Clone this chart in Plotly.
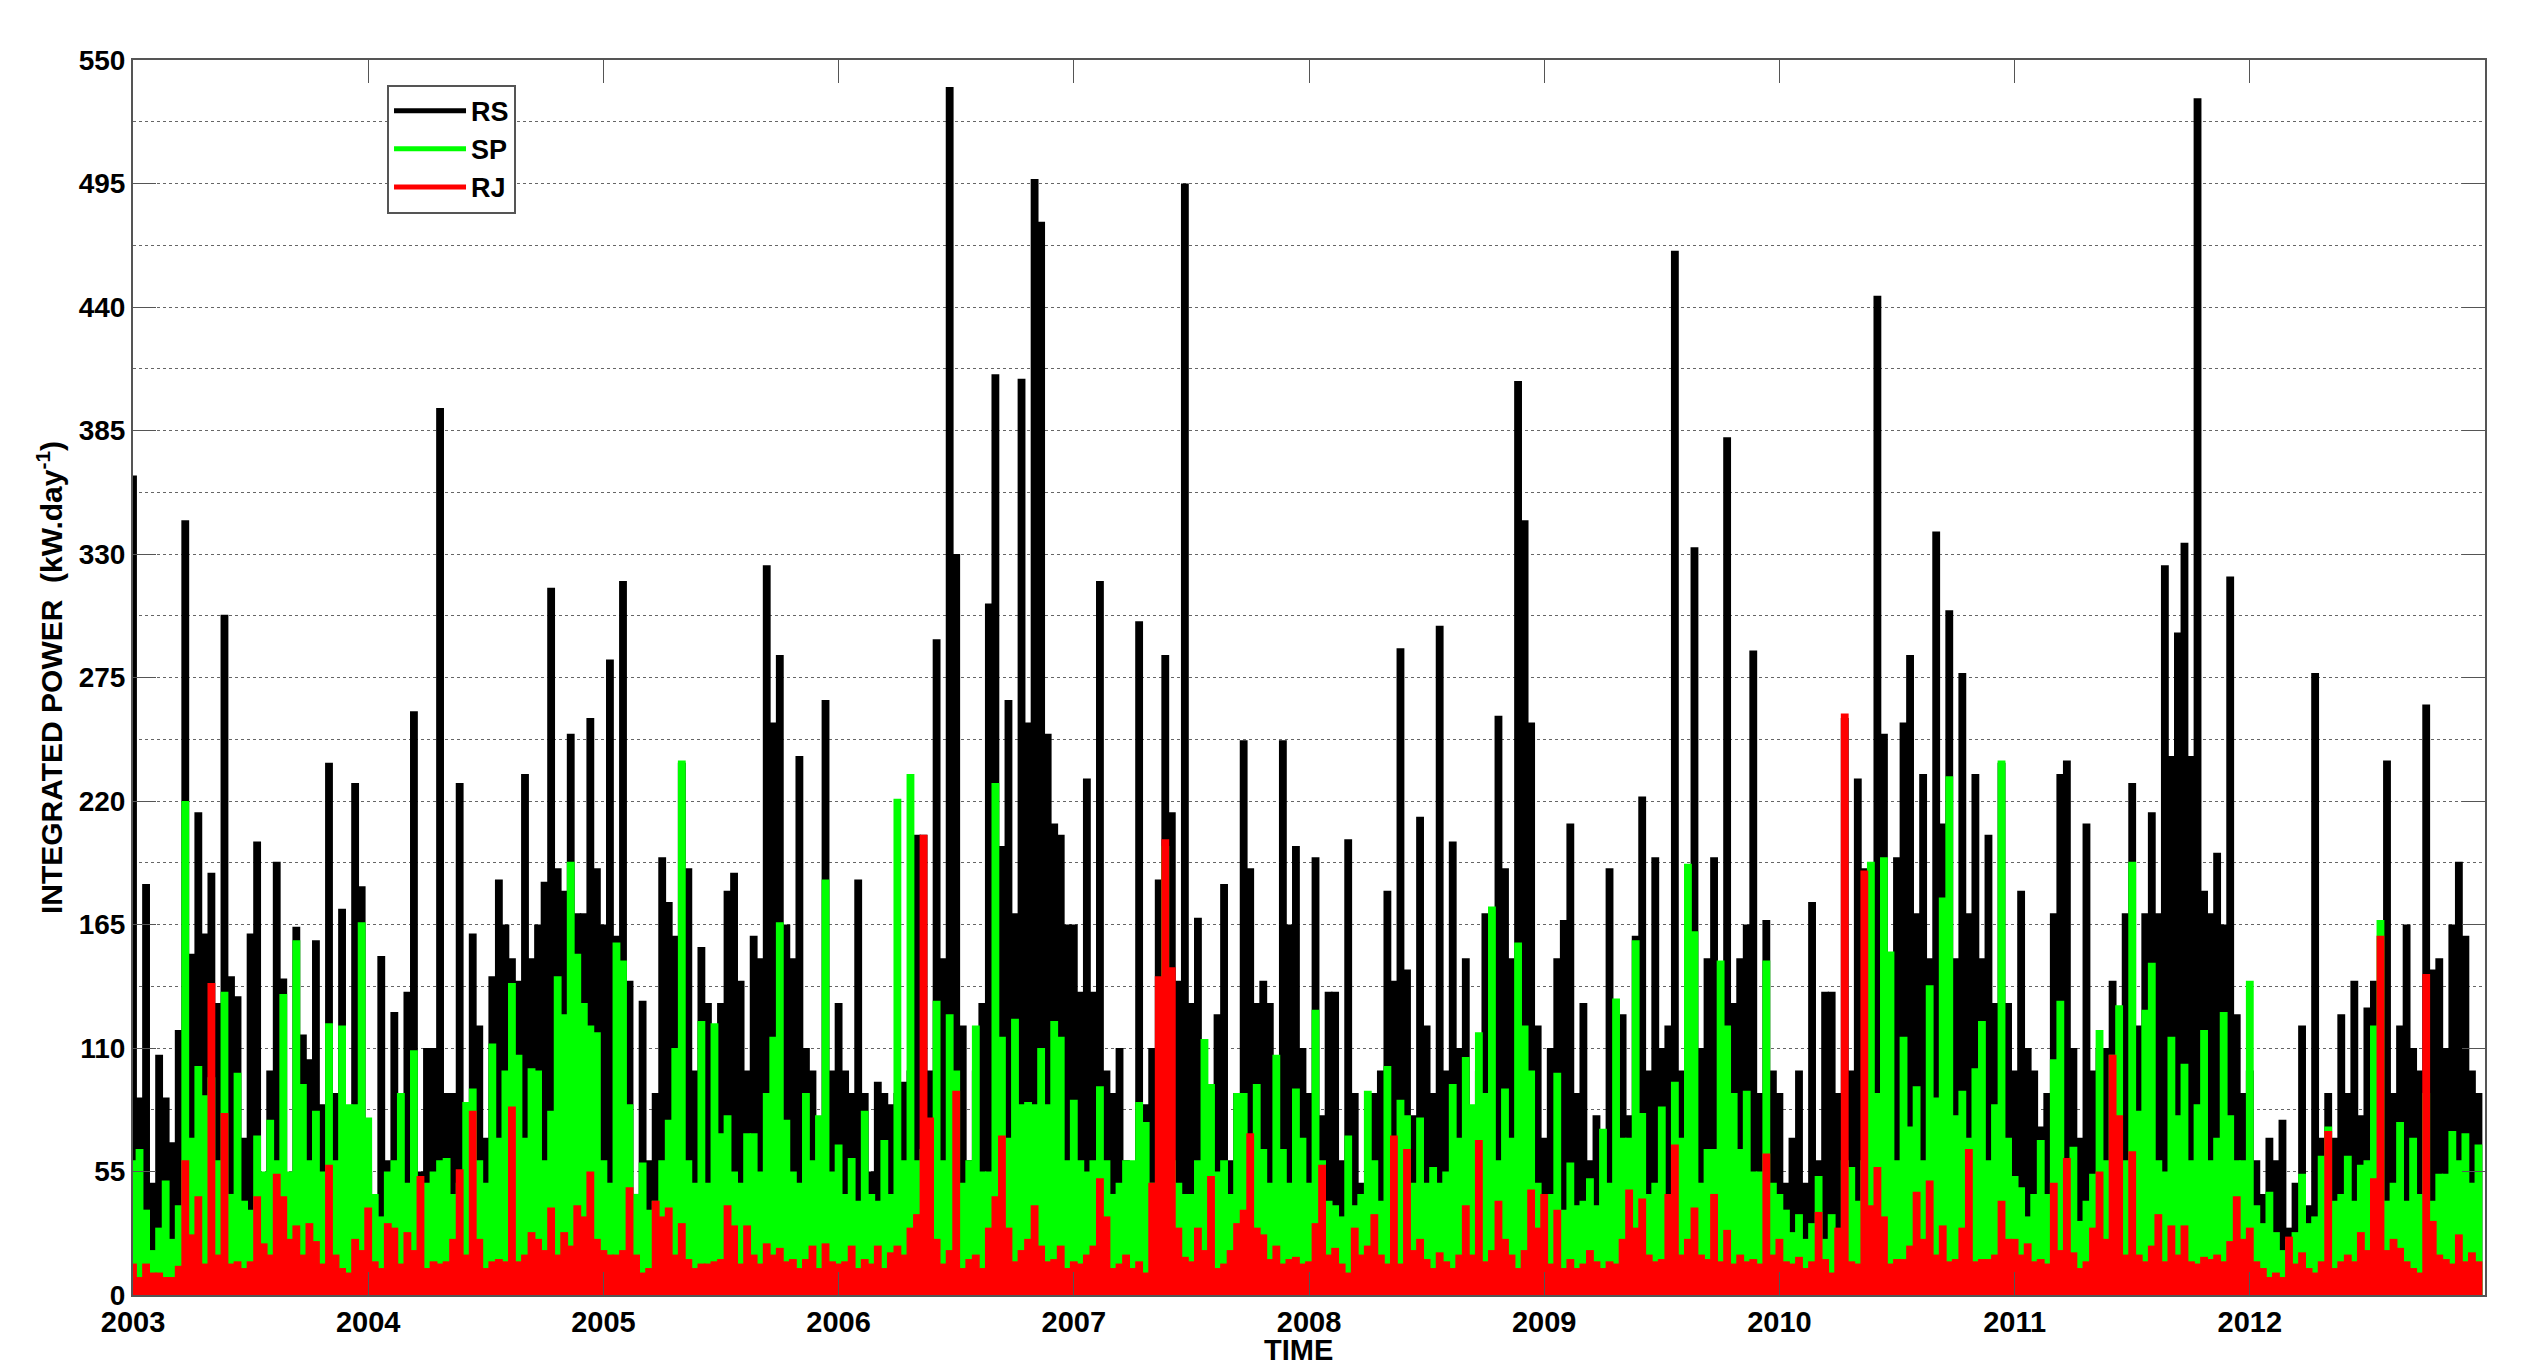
import plotly.graph_objects as go

YEARS = [2003, 2004, 2005, 2006, 2007, 2008, 2009, 2010, 2011, 2012]
BINS_PER_YEAR = 36

# values, one list per year, 36 steps per year
RS_2003 = [365, 88, 183, 50, 107, 88, 68, 118, 345, 152, 215, 161, 188, 130, 303, 142, 133, 70, 161, 202, 45, 100, 193, 141, 50, 164, 116, 105, 158, 85, 237, 90, 172, 60, 228, 182]
RS_2004 = [55, 40, 151, 60, 126, 40, 135, 260, 55, 110, 110, 395, 90, 90, 228, 50, 161, 120, 70, 142, 185, 165, 150, 140, 232, 150, 165, 184, 315, 190, 180, 250, 170, 170, 257, 190]
RS_2005 = [165, 283, 160, 318, 140, 45, 131, 60, 90, 195, 175, 160, 237, 190, 100, 155, 130, 85, 130, 180, 188, 140, 100, 160, 150, 325, 255, 285, 165, 150, 240, 110, 100, 70, 265, 100]
RS_2006 = [130, 100, 90, 185, 90, 55, 95, 90, 85, 90, 95, 100, 205, 205, 100, 292, 150, 538, 330, 120, 60, 100, 130, 308, 410, 200, 265, 170, 408, 255, 497, 478, 250, 210, 205, 165]
RS_2007 = [165, 135, 230, 135, 318, 100, 90, 110, 60, 55, 300, 85, 110, 185, 285, 215, 140, 495, 130, 168, 90, 80, 125, 183, 60, 90, 247, 190, 130, 140, 130, 90, 247, 165, 200, 110]
RS_2008 = [90, 195, 80, 135, 135, 60, 203, 90, 50, 40, 90, 100, 180, 140, 288, 145, 80, 213, 120, 90, 298, 100, 202, 110, 150, 80, 100, 170, 130, 258, 190, 150, 407, 345, 255, 120]
RS_2009 = [70, 110, 150, 167, 210, 90, 130, 60, 80, 50, 190, 80, 125, 80, 160, 222, 100, 195, 110, 120, 465, 100, 160, 333, 110, 150, 195, 130, 382, 130, 150, 165, 287, 90, 167, 100]
RS_2010 = [90, 50, 70, 100, 50, 175, 60, 135, 135, 90, 257, 100, 230, 190, 190, 445, 250, 150, 195, 255, 285, 170, 232, 150, 340, 210, 305, 150, 277, 170, 232, 150, 205, 130, 237, 130]
RS_2011 = [100, 180, 110, 100, 75, 90, 170, 232, 238, 110, 70, 210, 100, 110, 110, 140, 120, 170, 228, 120, 170, 215, 170, 325, 240, 295, 335, 240, 533, 180, 170, 197, 165, 320, 125, 90]
RS_2012 = [100, 60, 45, 70, 60, 78, 30, 50, 120, 40, 277, 70, 90, 70, 125, 90, 140, 80, 128, 140, 80, 238, 90, 120, 165, 110, 100, 263, 145, 150, 110, 165, 193, 160, 100, 90]

SP_2003 = [60, 65, 38, 20, 30, 51, 25, 40, 220, 70, 102, 89, 97, 60, 135, 45, 99, 42, 38, 71, 55, 78, 60, 134, 55, 158, 94, 60, 82, 55, 121, 60, 120, 85, 85, 166]
SP_2004 = [79, 45, 35, 55, 60, 90, 50, 109, 45, 50, 55, 60, 61, 45, 50, 86, 92, 60, 50, 112, 70, 100, 139, 107, 70, 101, 100, 60, 82, 142, 125, 193, 152, 130, 120, 117]
SP_2005 = [60, 50, 157, 149, 85, 45, 59, 38, 42, 60, 78, 110, 238, 60, 50, 122, 50, 121, 72, 80, 55, 50, 72, 72, 55, 90, 115, 166, 78, 55, 50, 90, 60, 80, 185, 55]
SP_2006 = [67, 45, 61, 42, 82, 45, 42, 69, 45, 221, 60, 232, 60, 65, 45, 131, 60, 125, 100, 50, 60, 120, 55, 55, 228, 115, 70, 123, 85, 86, 85, 110, 85, 122, 115, 60]
SP_2007 = [87, 60, 55, 60, 93, 60, 45, 50, 60, 60, 86, 77, 50, 47, 200, 60, 50, 45, 45, 60, 114, 94, 55, 60, 45, 90, 90, 60, 94, 65, 50, 107, 65, 50, 92, 70]
SP_2008 = [50, 127, 60, 42, 40, 35, 71, 40, 45, 91, 60, 42, 102, 45, 87, 80, 50, 79, 50, 57, 50, 55, 94, 70, 106, 85, 117, 90, 173, 60, 92, 70, 157, 120, 100, 50]
SP_2009 = [45, 45, 99, 38, 59, 40, 42, 52, 40, 74, 50, 132, 70, 70, 158, 81, 45, 50, 84, 45, 95, 70, 192, 162, 50, 65, 65, 149, 120, 90, 65, 91, 55, 55, 149, 50]
SP_2010 = [45, 38, 28, 36, 25, 32, 53, 25, 36, 28, 60, 57, 42, 60, 193, 90, 195, 153, 60, 115, 75, 93, 60, 138, 88, 177, 231, 80, 91, 70, 101, 122, 60, 85, 238, 70]
SP_2011 = [53, 48, 35, 45, 69, 45, 105, 131, 60, 66, 33, 42, 54, 118, 60, 107, 129, 60, 193, 82, 127, 148, 60, 55, 115, 80, 103, 60, 85, 118, 60, 70, 126, 80, 60, 60]
SP_2012 = [140, 40, 32, 46, 28, 20, 25, 28, 54, 32, 35, 62, 75, 42, 45, 62, 42, 58, 60, 120, 167, 42, 50, 77, 42, 70, 45, 90, 42, 54, 54, 73, 60, 72, 50, 67]

RJ_2003 = [14, 8, 14, 10, 10, 8, 8, 13, 60, 27, 44, 14, 139, 18, 81, 14, 15, 12, 15, 44, 23, 18, 54, 44, 25, 31, 18, 32, 24, 14, 58, 18, 12, 10, 25, 20]
RJ_2004 = [39, 15, 12, 32, 30, 14, 28, 20, 53, 12, 15, 14, 15, 25, 56, 18, 82, 25, 12, 15, 16, 15, 84, 15, 18, 28, 25, 20, 39, 18, 28, 22, 40, 35, 55, 25]
RJ_2005 = [20, 18, 18, 20, 48, 18, 10, 12, 42, 35, 39, 18, 32, 16, 12, 14, 14, 15, 16, 40, 31, 14, 31, 18, 14, 23, 18, 21, 15, 16, 12, 16, 22, 12, 23, 15]
RJ_2006 = [14, 15, 22, 12, 16, 14, 22, 12, 19, 22, 18, 30, 36, 205, 79, 25, 14, 20, 91, 12, 16, 18, 12, 30, 44, 71, 30, 15, 20, 25, 40, 22, 15, 16, 22, 12]
RJ_2007 = [15, 14, 18, 22, 52, 35, 12, 14, 18, 12, 15, 10, 50, 142, 203, 146, 30, 17, 15, 30, 20, 53, 12, 14, 20, 32, 38, 72, 30, 27, 16, 22, 14, 16, 17, 14]
RJ_2008 = [15, 32, 58, 18, 21, 14, 10, 30, 18, 22, 36, 18, 14, 71, 14, 65, 20, 25, 16, 12, 19, 15, 12, 18, 40, 18, 69, 15, 20, 42, 25, 18, 12, 20, 47, 30]
RJ_2009 = [45, 14, 38, 12, 16, 12, 14, 20, 15, 12, 15, 14, 25, 47, 30, 43, 18, 15, 16, 45, 67, 18, 25, 39, 18, 16, 45, 15, 29, 14, 18, 15, 16, 14, 63, 18]
RJ_2010 = [25, 15, 14, 17, 12, 15, 37, 16, 10, 30, 259, 15, 14, 189, 40, 57, 35, 14, 16, 16, 22, 46, 25, 51, 18, 31, 15, 16, 30, 65, 15, 16, 16, 18, 42, 25]
RJ_2011 = [25, 18, 23, 15, 16, 14, 50, 20, 61, 19, 12, 15, 30, 55, 25, 107, 80, 18, 64, 18, 15, 22, 36, 15, 31, 18, 31, 15, 14, 17, 16, 18, 15, 24, 44, 25]
RJ_2012 = [30, 15, 12, 8, 10, 8, 26, 14, 19, 12, 10, 15, 73, 12, 15, 18, 15, 28, 20, 52, 160, 20, 25, 21, 15, 12, 10, 143, 33, 18, 16, 14, 27, 15, 19, 15]

RS = RS_2003 + RS_2004 + RS_2005 + RS_2006 + RS_2007 + RS_2008 + RS_2009 + RS_2010 + RS_2011 + RS_2012
SP = SP_2003 + SP_2004 + SP_2005 + SP_2006 + SP_2007 + SP_2008 + SP_2009 + SP_2010 + SP_2011 + SP_2012
RJ = RJ_2003 + RJ_2004 + RJ_2005 + RJ_2006 + RJ_2007 + RJ_2008 + RJ_2009 + RJ_2010 + RJ_2011 + RJ_2012

time = [YEARS[0] + i / BINS_PER_YEAR for i in range(len(RS))]

FONT = "Liberation Sans"
AXIS_GREY = "#555555"

fig = go.Figure()

# bars a bit wider than the step so no seams show, drawn back to front
for values, color in [(RS, "#000000"), (SP, "#00ff00"), (RJ, "#ff0000")]:
    fig.add_trace(go.Bar(x=time, y=values, width=1.2 / BINS_PER_YEAR, marker_color=color,
                         marker_line_width=0, showlegend=False))

# legend shows plain lines, not swatches
for name, color in [("RS", "#000000"), ("SP", "#00ff00"), ("RJ", "#ff0000")]:
    fig.add_trace(go.Scatter(x=[None], y=[None], mode="lines", name=name,
                             line=dict(color=color, width=5)))

fig.update_layout(
    width=2535,
    height=1368,
    margin=dict(l=133, r=50, t=60, b=73, autoexpand=False),
    barmode="overlay",
    plot_bgcolor="white",
    paper_bgcolor="white",
    font=dict(family=FONT, size=28, color="black"),
    legend=dict(x=0.108, y=0.98, xanchor="left", yanchor="top", bgcolor="white",
                bordercolor=AXIS_GREY, borderwidth=2, itemwidth=72, tracegroupgap=0,
                font=dict(family=FONT, size=27, weight="bold")),
    annotations=[dict(text="TIME", xref="paper", yref="paper", x=0.4955, y=0, xanchor="center",
                      yanchor="top", yshift=-37, showarrow=False,
                      font=dict(family=FONT, size=29, weight="bold"))],
)
fig.update_xaxes(
    range=[2003, 2013],
    tickvals=YEARS,
    ticktext=[str(y) for y in YEARS],
    ticks="inside",
    ticklen=23,
    tickcolor=AXIS_GREY,
    showline=True,
    linecolor=AXIS_GREY,
    linewidth=2,
    mirror="ticks",
    showgrid=False,
    zeroline=False,
    tickfont=dict(family=FONT, size=29, weight="bold"),
)
fig.update_yaxes(
    range=[0, 550],
    tick0=0,
    dtick=55,
    ticks="inside",
    ticklen=23,
    tickcolor=AXIS_GREY,
    showline=True,
    linecolor=AXIS_GREY,
    linewidth=2,
    mirror="ticks",
    showgrid=True,
    gridcolor="#666666",
    griddash="dot",
    gridwidth=1,
    zeroline=False,
    minor=dict(dtick=27.5, tick0=0, showgrid=True, gridcolor="#666666", griddash="dot",
               gridwidth=1, ticks=""),
    tickfont=dict(family=FONT, size=28, weight="bold"),
    title=dict(text="INTEGRATED POWER  (kW.day<sup>-1</sup>)", standoff=7,
               font=dict(family=FONT, size=30, weight="bold")),
)

# drop the default page margin so the figure fills the window exactly
fig.write_html("out.html", config={"displayModeBar": False},
               post_script="document.body.style.margin = '0';")
